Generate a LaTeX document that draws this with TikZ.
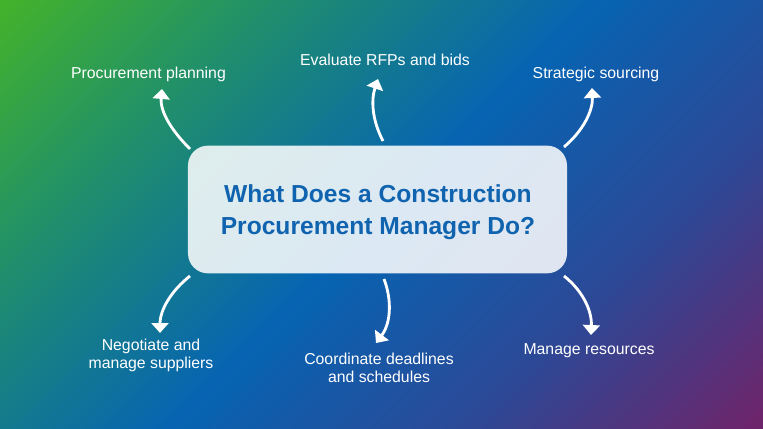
\documentclass[tikz,border=0pt]{standalone}
\usepackage{fontspec}
\setmainfont{Liberation Sans}
\usetikzlibrary{arrows.meta}

\definecolor{bgA}{RGB}{66,178,44}
\definecolor{bgB}{RGB}{30,140,112}
\definecolor{bgC}{RGB}{6,100,178}
\definecolor{bgD}{RGB}{45,72,150}
\definecolor{bgE}{RGB}{110,36,106}
\definecolor{titleblue}{RGB}{16,100,175}

\pgfdeclarehorizontalshading{bgshade}{100bp}{color(0bp)=(bgA); color(15bp)=(bgA); color(32bp)=(bgB); color(50bp)=(bgC); color(68bp)=(bgD); color(85bp)=(bgE); color(100bp)=(bgE)}

\begin{document}
\begin{tikzpicture}[x=0.03cm,y=-0.03cm]

    \tikzset{
      task/.style={
        text=white,
        font=\fontsize{13.5}{15.4}\selectfont,
        align=center,
        inner sep=0pt,
      },
      flow/.style={
        white,
        line width=2.4pt,
        -{Triangle[width=14.5pt,length=8.5pt]},
      },
    }
    \useasboundingbox (0,0) rectangle (763,429);
    \shade[shading=bgshade,shading angle=-45] (0,0) rectangle (763,429);

    \node[fill=white,fill opacity=0.86,text opacity=1,rounded corners=17pt,
      minimum width=323.5pt,minimum height=109pt,text=titleblue,align=center,
      font=\fontsize{21}{27.6}\selectfont\bfseries] (hub) at (377.5,209.5) {};
    \node[text=titleblue,align=center,font=\fontsize{21}{27.6}\selectfont\bfseries]
      (title) at (378,212.5) {What Does a Construction\\Procurement Manager Do?};

    \node[task] (planning) at (148.5,74) {Procurement planning};
    \node[task] (bids) at (385,60) {Evaluate RFPs and bids};
    \node[task] (sourcing) at (596,74) {Strategic sourcing};
    \node[task] (suppliers) at (151,355) {Negotiate and\\manage suppliers};
    \node[task] (deadlines) at (379,368) {Coordinate deadlines\\and schedules};
    \node[task] (resources) at (589,351) {Manage resources};

    % arrow ends
    \coordinate (p1) at (190,149);  \coordinate (q1) at (162,89);
    \coordinate (p2) at (383,141);  \coordinate (q2) at (378,79);
    \coordinate (p3) at (564,147);  \coordinate (q3) at (592,88);
    \coordinate (p4) at (190,276);  \coordinate (q4) at (160,333);
    \coordinate (p5) at (384,279);  \coordinate (q5) at (376,343);
    \coordinate (p6) at (564,276);  \coordinate (q6) at (591,335);

    \draw[flow] (p1) .. controls (172,131) and (160,112) .. (q1);
    \draw[flow] (p2) .. controls (372,120) and (371,100) .. (q2);
    \draw[flow] (p3) .. controls (584,130) and (593,110) .. (q3);
    \draw[flow] (p4) .. controls (171,291) and (160,310) .. (q4);
    \draw[flow] (p5) .. controls (392,300) and (391,323) .. (q5);
    \draw[flow] (p6) .. controls (583,291) and (592,311) .. (q6);

\end{tikzpicture}
\end{document}
